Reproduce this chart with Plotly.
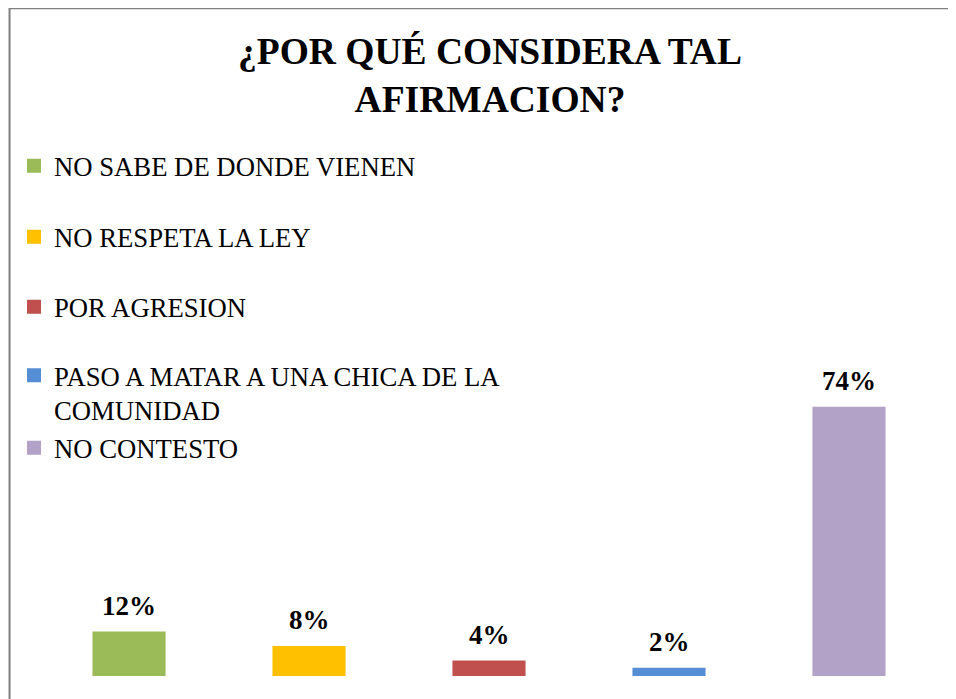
import plotly.graph_objects as go

categories = ["NO SABE DE DONDE VIENEN", "NO RESPETA LA LEY", "POR AGRESION",
              "PASO A MATAR A UNA CHICA DE LA<br>COMUNIDAD", "NO CONTESTO"]
values = [12, 8, 4, 2, 74]
colors = ["#9BBB59", "#FFC000", "#C0504D", "#558ED5", "#B3A2C7"]
title_text = "¿POR QUÉ CONSIDERA TAL<br>AFIRMACION?"

W, H = 956, 699
ML, MR, MT, MB = 30.5, 24.5, 378.3, 31
PW, PH = W - ML - MR, H - MT - MB

def px_x(px):
    return (px - ML) / PW

def px_y(py):
    return (H - MB - py) / PH

legend_y = [158, 229, 299, 385, 440]
SERIF = "Liberation Serif, Times New Roman, Times, serif"

fig = go.Figure()
layout_legends = {}
for i, (c, v, col) in enumerate(zip(categories, values, colors)):
    lname = "legend" if i == 0 else f"legend{i+1}"
    fig.add_trace(go.Bar(
        x=[i], y=[v], name=c, marker=dict(color=col, line=dict(color=col, width=2)),
        legend=lname, showlegend=True, hoverinfo="skip"))
    layout_legends[lname] = dict(
        xref="container", yref="container", x=6 / W, y=1 - legend_y[i] / H,
        xanchor="left", yanchor="middle", valign="top",
        font=dict(family=SERIF, size=26.7, color="#000000"),
        bgcolor="rgba(0,0,0,0)", borderwidth=0)

for i, v in enumerate(values):
    fig.add_annotation(x=i, y=v, text=f"<b>{v}%</b>", showarrow=False, yanchor="bottom",
                       yshift=10, font=dict(family=SERIF, size=27, color="#000000"))

fig.update_layout(
    width=W, height=H, margin=dict(l=ML, r=MR, t=MT, b=MB, autoexpand=False),
    paper_bgcolor="white", plot_bgcolor="white",
    barmode="overlay", bargap=0.605,
    title=dict(text="<b>" + title_text.replace("<br>", "</b><br><b>") + "</b>",
               x=482 / W, xanchor="center", xref="container",
               y=1 - 55.5 / H, yanchor="middle", yref="container",
               font=dict(family=SERIF, size=37.5, color="#000000")),
    xaxis=dict(range=[-0.5, 4.5], visible=False, fixedrange=True),
    yaxis=dict(range=[0, 80], visible=False, fixedrange=True),
    **layout_legends,
)

# chart border
BORDER = dict(color="#808080", width=2)
fig.add_shape(type="rect", xref="paper", yref="paper",
              x0=px_x(1), x1=px_x(W - 1), y0=px_y(1), y1=px_y(H - 1),
              line=BORDER, fillcolor="rgba(0,0,0,0)", layer="above")

fig.write_html("out.html")
